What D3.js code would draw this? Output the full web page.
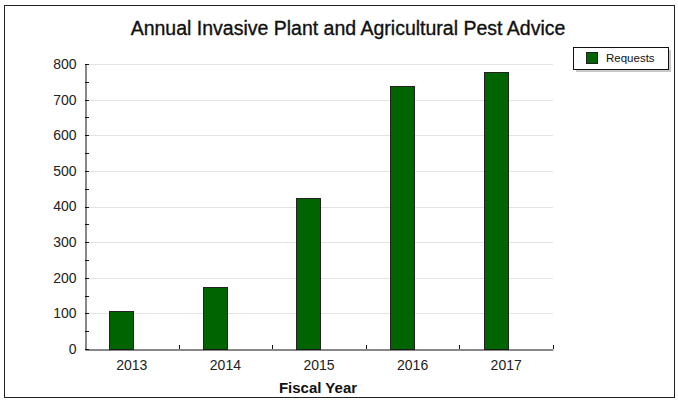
<!DOCTYPE html>
<html><head><meta charset="utf-8">
<script src="https://cdn.jsdelivr.net/npm/d3@7"></script>
<style>body{margin:0;background:#fff}svg{display:block}</style>
</head><body>
<svg id="c" width="678" height="401"></svg>
<script>
const categories = ["2013","2014","2015","2016","2017"];
const requests = [106, 174, 424, 738, 777];
const yTicks = [0,100,200,300,400,500,600,700,800];
const titleText = "Annual Invasive Plant and Agricultural Pest Advice";
const xTitle = "Fiscal Year";
const seriesName = "Requests";

const svg = d3.select("#c");
const M = {left:85, right:553, top:64, bottom:349};
const x = d3.scaleBand().domain(categories).range([M.left, M.right]);
const y = d3.scaleLinear().domain([0,800]).range([M.bottom, M.top]);
const font = "'Liberation Sans', Arial, sans-serif";

// outer frame
svg.append("rect").attr("x",4.5).attr("y",5.5).attr("width",670).attr("height",392)
  .attr("fill","#fff").attr("stroke","#222").attr("stroke-width",1);

svg.append("text").attr("x",348).attr("y",35).attr("text-anchor","middle")
  .attr("font-family",font).attr("font-size",19.5).attr("fill","#111")
  .attr("stroke","#111").attr("stroke-width",0.35).text(titleText);

// gridlines
svg.append("g").selectAll("line").data(yTicks.filter(d=>d>0)).join("line")
  .attr("x1",M.left).attr("x2",M.right).attr("y1",d=>Math.round(y(d))+0.5).attr("y2",d=>Math.round(y(d))+0.5)
  .attr("stroke","#e3e3e3");

// bars
const bw = x.bandwidth();
svg.append("g").selectAll("rect").data(requests).join("rect")
  .attr("x",(d,i)=>Math.round(x(categories[i]) + bw*0.258)+0.5)
  .attr("width",Math.round(bw*0.258))
  .attr("y",d=>Math.round(y(d))+0.5)
  .attr("height",d=>M.bottom-Math.round(y(d)))
  .attr("fill","#006400").attr("stroke","#222").attr("stroke-width",1);

// y axis
const ya = d3.axisLeft(y).tickValues(yTicks).tickSize(0).tickPadding(9);
const yg = svg.append("g").attr("transform",`translate(${M.left+0.5},0)`).call(ya);
yg.select(".domain").attr("stroke","#111");
yg.selectAll("text").attr("font-family",font).attr("font-size",14).attr("fill","#222");
// inward major and minor ticks
const minor = d3.range(0,801,50);
svg.append("g").selectAll("line").data(minor).join("line")
  .attr("x1",M.left).attr("x2",M.left+4).attr("y1",d=>Math.round(y(d))+0.5).attr("y2",d=>Math.round(y(d))+0.5)
  .attr("stroke","#111");

// x axis
const xa = d3.axisBottom(x).tickSize(0).tickPadding(11);
const xg = svg.append("g").attr("transform",`translate(0,${M.bottom+0.5})`).call(xa);
xg.select(".domain").attr("stroke","#111");
xg.selectAll("text").attr("font-family",font).attr("font-size",14).attr("fill","#222");
svg.append("g").selectAll("line").data(categories).join("line")
  .attr("x1",d=>Math.round(x(d)+bw)+0.5).attr("x2",d=>Math.round(x(d)+bw)+0.5)
  .attr("y1",M.bottom).attr("y2",M.bottom-4).attr("stroke","#111");

svg.append("text").attr("x",318).attr("y",393).attr("text-anchor","middle")
  .attr("font-family",font).attr("font-size",15).attr("font-weight","bold").attr("fill","#111").text(xTitle);

// legend
const lg = svg.append("g");
lg.append("rect").attr("x",576).attr("y",50).attr("width",95).attr("height",22).attr("fill","#c8c8c8");
lg.append("rect").attr("x",573.5).attr("y",47.5).attr("width",95).attr("height",22).attr("fill","#fff").attr("stroke","#111");
lg.append("rect").attr("x",586.5).attr("y",52.5).attr("width",11).attr("height",11).attr("fill","#006400").attr("stroke","#222");
lg.append("text").attr("x",606).attr("y",62).attr("font-family",font).attr("font-size",11.5).attr("fill","#111").text(seriesName);
</script>
</body></html>
